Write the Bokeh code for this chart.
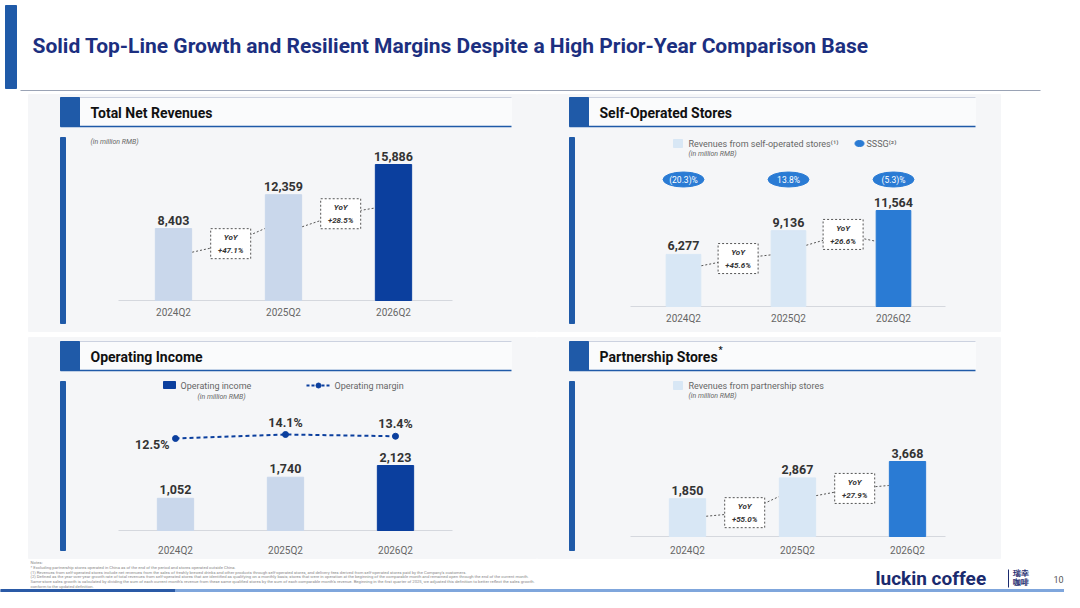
from bokeh.plotting import figure
from bokeh.models import Range1d
from bokeh.core.properties import value
from bokeh.embed import file_html
from bokeh.resources import INLINE

# ---------------- data ----------------
categories = ["2024Q2", "2025Q2", "2026Q2"]
net_revenues = [8403, 12359, 15886]
net_rev_yoy = ["+47.1%", "+28.5%"]
self_op_revenues = [6277, 9136, 11564]
self_op_yoy = ["+45.6%", "+26.6%"]
sssg = ["(20.3)%", "13.8%", "(5.3)%"]
op_income = [1052, 1740, 2123]
op_margin = [12.5, 14.1, 13.4]
partner_revenues = [1850, 2867, 3668]
partner_yoy = ["+55.0%", "+27.9%"]

TITLE = "Solid Top-Line Growth and Resilient Margins Despite a High Prior-Year Comparison Base"
FONT = value("Roboto")
NAVY = "#1c2f80"
BLUE = "#1f5aa8"
DARK = "#0b3f9e"
MID = "#2a7bd4"
LIGHT_L = "#c9d7eb"
LIGHT_R = "#d8e7f5"
GRAY = "#666666"

W, H = 1064, 592
p = figure(width=W, height=H, output_backend="svg", toolbar_location=None,
           x_range=Range1d(0, W), y_range=Range1d(H, 0), min_border=0)
p.axis.visible = False
p.grid.visible = False
p.outline_line_color = None
p.background_fill_color = "white"

def fmt(v):
    return f"{v:,}"

def txt(x, y, s, size="10px", color="#333333", style="normal", align="left", base="middle", **kw):
    p.text(x=[x], y=[y], text=[s], text_font=FONT, text_font_size=size, text_color=color,
           text_font_style=style, text_align=align, text_baseline=base, **kw)

# ---------------- slide frame ----------------
p.quad(left=[5], right=[16], top=[5], bottom=[88], color=BLUE)
txt(32, 45, TITLE, size="21px", color=NAVY, style="bold")
p.segment(x0=[20], y0=[90], x1=[1040], y1=[90], line_color="#9aa3b5", line_width=1.2)

def panel(name, bx0, bx1, by0, by1, hy):
    p.quad(left=[bx0], right=[bx1], top=[by0], bottom=[by1], color="#f5f6f8")
    hx = bx0 + 32
    p.quad(left=[hx], right=[bx1 - 25], top=[hy], bottom=[hy + 29], color="#fafbfc")
    p.segment(x0=[hx], y0=[hy + 29], x1=[bx1 - 25], y1=[hy + 29], line_color=BLUE, line_width=1.5)
    p.segment(x0=[hx], y0=[hy], x1=[bx1 - 25], y1=[hy], line_color="#c0c8d8", line_width=0.8)
    p.quad(left=[hx], right=[hx + 19], top=[hy], bottom=[hy + 29], color=BLUE)
    p.quad(left=[hx], right=[hx + 5], top=[hy + 40], bottom=[by1 - 8], color=BLUE)
    txt(hx + 30, hy + 15, name, size="14px", color="#111111", style="bold")

panel("Total Net Revenues", 28, 536, 94, 331, 97)
panel("Self-Operated Stores", 537, 1000, 94, 331, 97)
panel("Operating Income", 28, 536, 337, 558, 341)
panel("Partnership Stores", 537, 1000, 337, 558, 341)
txt(718, 349, "*", size="9px", color="#111111", style="bold")

# ---------------- bar panel helper ----------------
def bars(key, vals, colors, c0, d, yb, ytop, axis_x0, axis_x1, cat_y):
    vmax = max(vals)
    k = (ytop - yb) / vmax
    p.extra_y_ranges["v" + key] = Range1d((H - yb) / k, (0 - yb) / k)
    p.extra_x_ranges["c" + key] = Range1d((0 - c0) / d, (W - c0) / d)
    xs = list(range(len(vals)))
    p.segment(x0=[axis_x0], y0=[yb], x1=[axis_x1], y1=[yb], line_color="#d5d8de", line_width=1)
    p.vbar(x=xs, top=vals, bottom=0, width=0.33, color=colors,
           x_range_name="c" + key, y_range_name="v" + key)
    p.text(x=xs, y=vals, text=[fmt(v) for v in vals], text_font=FONT, text_font_size="12.5px",
           text_font_style="bold", text_color="#333333", text_align="center", text_baseline="bottom",
           y_offset=-4, x_range_name="c" + key, y_range_name="v" + key)
    p.text(x=xs, y=[cat_y] * 3, text=categories, text_font=FONT, text_font_size="10px",
           text_color=GRAY, text_align="center", text_baseline="middle", x_range_name="c" + key)
    return xs

def yoy(key, vals, labels, fr):
    for i, lab in enumerate(labels):
        bv = vals[i] * fr[i]
        xm = i + 0.52
        p.line(x=[i + 0.17, xm, i + 0.83], y=[bv * 0.85, bv, vals[i + 1] * 0.68],
               line_dash="2 2", line_color="#555555", line_width=1,
               x_range_name="c" + key, y_range_name="v" + key)
        p.rect(x=[xm], y=[bv], width=40, height=30, width_units="screen", height_units="screen",
               fill_color="white", line_color="#555555", line_dash="2 2", line_width=1,
               x_range_name="c" + key, y_range_name="v" + key)
        for s, off in (("YoY", -6), (lab, 7)):
            p.text(x=[xm], y=[bv], text=[s], text_font=FONT, text_font_size="8px",
                   text_font_style="bold italic", text_color="#333333", text_align="center",
                   text_baseline="middle", y_offset=off, x_range_name="c" + key, y_range_name="v" + key)

# Total net revenues
txt(90, 141, "(in million RMB)", size="7px", color=GRAY, style="italic")
bars("tl", net_revenues, [LIGHT_L, LIGHT_L, DARK], 173, 110, 300, 164, 118, 452, 312)
yoy("tl", net_revenues, net_rev_yoy, [0.79, 0.82])

# Self-operated stores
p.quad(left=[673], right=[682], top=[139], bottom=[147], color=LIGHT_R)
txt(688, 143, "Revenues from self-operated stores⁽¹⁾", size="9px", color=GRAY)
txt(688, 153, "(in million RMB)", size="7px", color=GRAY, style="italic")
p.ellipse(x=[859], y=[143], width=9, height=6, color=MID)
txt(866, 143, "SSSG⁽²⁾", size="9px", color=GRAY)
xs = bars("tr", self_op_revenues, [LIGHT_R, LIGHT_R, MID], 683, 105, 306, 210, 630, 945, 318)
p.ellipse(x=xs, y=[179] * 3, width=0.39, height=15, height_units="screen", color=MID,
          x_range_name="ctr")
p.text(x=xs, y=[179] * 3, text=sssg, text_font=FONT, text_font_size="8.5px", text_color="white",
       text_align="center", text_baseline="middle", x_range_name="ctr")
yoy("tr", self_op_revenues, self_op_yoy, [0.92, 0.95])

# Operating income
p.quad(left=[163], right=[175], top=[381], bottom=[388], color=DARK)
txt(180, 385, "Operating income", size="9px", color=GRAY)
txt(197, 396, "(in million RMB)", size="7px", color=GRAY, style="italic")
p.line(x=[306, 330], y=[385, 385], line_dash="3 2", line_color=DARK, line_width=2)
p.scatter(x=[318], y=[385], size=5, color=DARK)
txt(334, 385, "Operating margin", size="9px", color=GRAY)
xs = bars("bl", op_income, [LIGHT_L, LIGHT_L, DARK], 175, 110, 530, 465, 118, 452, 550)
km = -2.5
p.extra_y_ranges["m"] = Range1d(12.5 + (H - 438) / km, 12.5 + (0 - 438) / km)
p.line(x=xs, y=op_margin, line_dash="4 3", line_color=DARK, line_width=2,
       x_range_name="cbl", y_range_name="m")
p.scatter(x=xs, y=op_margin, size=6, color=DARK, x_range_name="cbl", y_range_name="m")
lbl = [f"{m:.1f}%" for m in op_margin]
p.text(x=xs[:1], y=op_margin[:1], text=lbl[:1], text_font=FONT, text_font_size="12.5px",
       text_font_style="bold", text_color="#333333", text_align="right", text_baseline="middle",
       x_offset=-6, y_offset=6, x_range_name="cbl", y_range_name="m")
p.text(x=xs[1:], y=op_margin[1:], text=lbl[1:], text_font=FONT, text_font_size="12.5px",
       text_font_style="bold", text_color="#333333", text_align="center", text_baseline="bottom",
       y_offset=-5, x_range_name="cbl", y_range_name="m")

# Partnership stores
p.quad(left=[673], right=[682], top=[381], bottom=[389], color=LIGHT_R)
txt(688, 385, "Revenues from partnership stores", size="9px", color=GRAY)
txt(688, 395, "(in million RMB)", size="7px", color=GRAY, style="italic")
bars("br", partner_revenues, [LIGHT_R, LIGHT_R, MID], 687, 110, 536, 461, 630, 945, 550)
yoy("br", partner_revenues, partner_yoy, [0.63, 0.82])

# ---------------- footnotes & footer ----------------
notes = [
    "Notes:",
    "*     Excluding partnership stores operated in China as of the end of the period and stores operated outside China.",
    "(1)   Revenues from self-operated stores include net revenues from the sales of freshly brewed drinks and other products through self-operated stores, and delivery fees derived from self-operated stores paid by the Company's customers.",
    "(2)   Defined as the year-over-year growth rate of total revenues from self-operated stores that are identified as qualifying on a monthly basis; stores that were in operation at the beginning of the comparable month and remained open through the end of the current month.",
    "       Same-store sales growth is calculated by dividing the sum of each current month's revenue from these same qualified stores by the sum of each comparable month's revenue. Beginning in the first quarter of 2025, we adjusted this definition to better reflect the sales growth.",
    "       conform to the updated definition.",
]
for j, s in enumerate(notes):
    txt(30, 562 + j * 4.8, s, size="4.2px", color="#8a8a8a")
txt(875, 578, "luckin coffee", size="19px", color="#1a2a6e", style="bold")
txt(1012, 573, "瑞幸", size="7.5px", color="#1a2a6e", style="bold")
txt(1012, 582, "咖啡", size="7.5px", color="#1a2a6e", style="bold")
p.segment(x0=[1008], y0=[569], x1=[1008], y1=[587], line_color="#1a2a6e", line_width=1)
txt(1053, 579, "10", size="9px", color="#555555")
p.quad(left=[0], right=[175], top=[589], bottom=[592], color="#2a5aa6")
p.quad(left=[175], right=[1080], top=[589], bottom=[592], color="#7fa6dc")

open("out.html", "w").write(file_html(p, INLINE))
